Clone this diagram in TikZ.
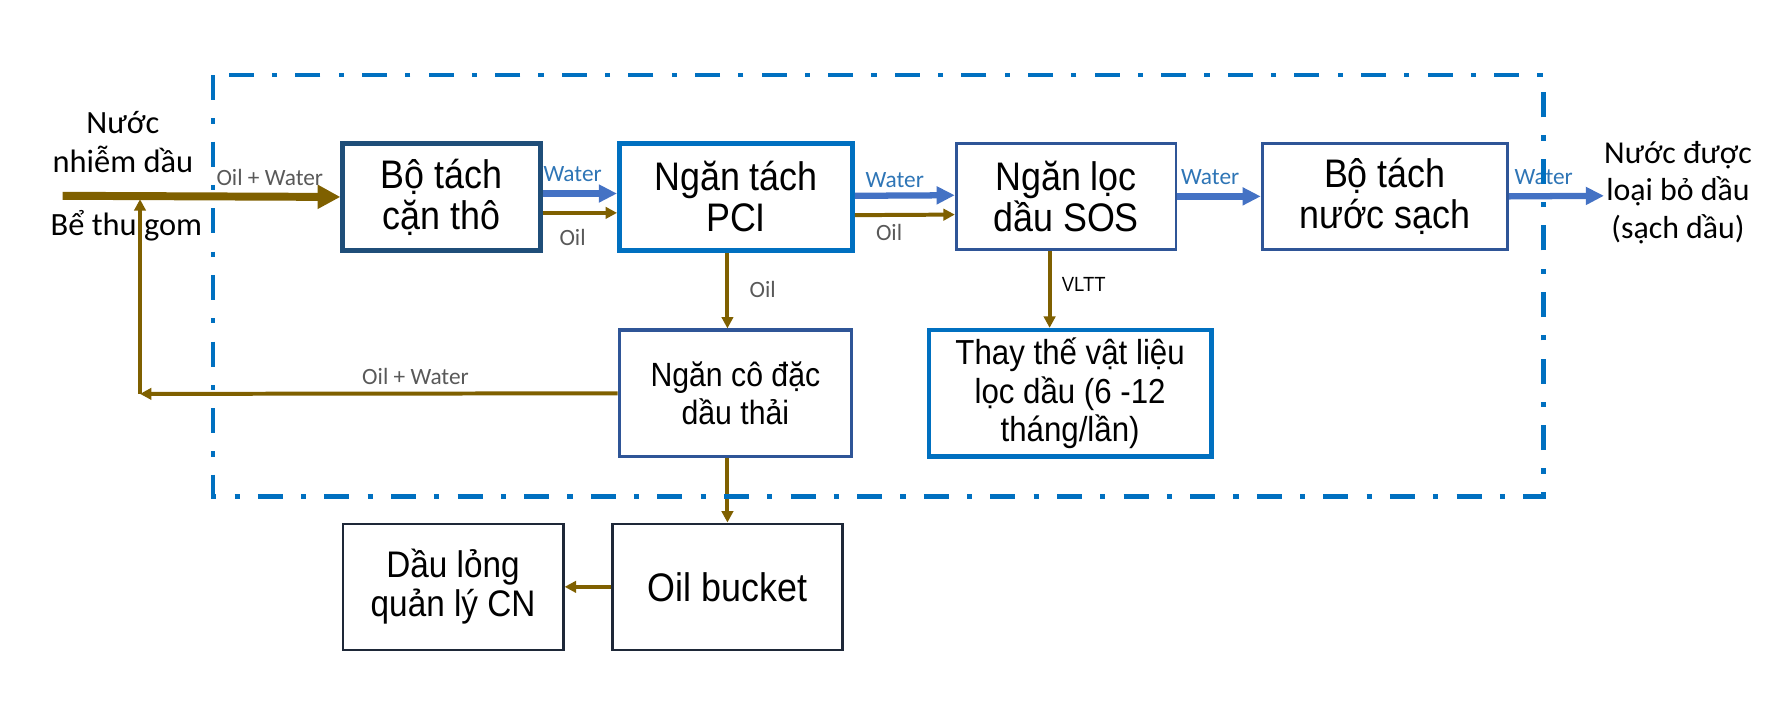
\documentclass[tikz,border=0pt]{standalone}
\usepackage{fontspec}
\setmainfont{Liberation Sans}
\newfontfamily\boxfont[FakeStretch=0.9]{Liberation Sans}
\newfontfamily\calfont{Carlito}
\usetikzlibrary{arrows.meta}
\definecolor{frameblue}{RGB}{0,112,192}
\definecolor{waterblue}{RGB}{68,114,196}
\definecolor{waterlbl}{RGB}{46,117,182}
\definecolor{oilbrown}{RGB}{127,96,0}
\definecolor{lblgray}{RGB}{89,89,89}
\definecolor{darkblue}{RGB}{31,78,121}
\definecolor{midblue}{RGB}{47,85,151}
\definecolor{darkline}{RGB}{30,40,56}
\begin{document}
\begin{tikzpicture}[x=1pt,y=-1pt,
  box/.style={rectangle, inner sep=0pt, align=center, fill=white, text=black,
    font=\boxfont\fontsize{35}{36}\selectfont},
  lbl/.style={inner sep=0pt, text=lblgray, font=\calfont\fontsize{20.5}{22}\selectfont},
  wlbl/.style={inner sep=0pt, text=waterlbl, font=\calfont\fontsize{20.5}{22}\selectfont},
  side/.style={inner sep=0pt, align=center, text=black, font=\calfont\fontsize{28.5}{34}\selectfont},
  water/.style={draw=waterblue, line width=5.5pt, -{Triangle[length=16pt,width=15pt]}},
  oil/.style={draw=oilbrown, line width=3.5pt, -{Triangle[length=10pt,width=10pt]}},
  mainin/.style={draw=oilbrown, line width=7pt, -{Triangle[length=20pt,width=20pt]}}
]
\useasboundingbox (0,0) rectangle (1568,635);

% boxes
\node[box, draw=darkblue, line width=4pt, minimum width=174pt, minimum height=94pt] (b1) at (388,173) {Bộ tách\\cặn thô};
\node[box, draw=frameblue, line width=4pt, minimum width=205pt, minimum height=94pt] (b2) at (646.5,173) {Ngăn tách\\PCI};
\node[box, draw=midblue, line width=2.5pt, minimum width=193pt, minimum height=93pt] (b3) at (936.5,172.5) {Ngăn lọc\\dầu SOS};
\node[box, draw=midblue, line width=3pt, minimum width=215pt, minimum height=93pt] (b4) at (1216.5,172.5) {Bộ tách\\nước sạch};
\node[box, draw=midblue, line width=3pt, minimum width=204pt, minimum height=111pt,
  font=\boxfont\fontsize{29.5}{34}\selectfont] (b5) at (646,345.5) {Ngăn cô đặc\\dầu thải};
\node[box, draw=frameblue, line width=4pt, minimum width=248pt, minimum height=111pt,
  font=\boxfont\fontsize{30.5}{34}\selectfont] (b6) at (940,345.5) {Thay thế vật liệu\\lọc dầu (6 -12\\tháng/lần)};
\node[box, draw=darkline, line width=2pt, minimum width=202pt, minimum height=111pt,
  font=\boxfont\fontsize{35}{36}\selectfont] (b7) at (639,515.5) {Oil bucket};
\node[box, draw=darkline, line width=2pt, minimum width=194pt, minimum height=111pt,
  font=\boxfont\fontsize{32.5}{34}\selectfont] (b8) at (398,515.5) {Dầu lỏng\\quản lý CN};

% side texts
\node[side] (t1) at (108,125) {Nước\\nhiễm dầu};
\node[side] (t2) at (111,198) {Bể thu gom};
\node[side, font=\calfont\fontsize{28}{33}\selectfont] (t3) at (1474,169) {Nước được\\loại bỏ dầu\\(sạch dầu)};

% coordinates
\coordinate (src) at (55,172);
\coordinate (corner) at (123,346);
\coordinate (out) at (1409,172);

% connectors
\draw[mainin] (src) -- (b1.west);
\draw[water] ([yshift=3pt]b1.east) -- ([yshift=3pt]b2.west);
\draw[oil] ([yshift=-14pt]b1.east) -- ([yshift=-14pt]b2.west);
\draw[water] ([yshift=1pt]b2.east) -- ([yshift=1pt]b3.west);
\draw[oil] ([yshift=-16pt]b2.east) -- ([yshift=-16pt]b3.west);
\draw[water] (b3.east) -- (b4.west);
\draw[water] (b4.east) -- (out);
\draw[oil] (b2.south -| b7.north) -- (b5.north -| b7.north);
\draw[oil] ([xshift=-14.5pt]b3.south) -- ([xshift=-18pt]b6.north);
\draw[oil] (b5.south -| b7.north) -- (b7.north);
\draw[oil] (b7.west) -- (b8.east);
\draw[oil] (b5.west) -- (corner);
\draw[oil] (corner) -- ([yshift=-3pt]corner |- src);

% labels
\node[lbl] (l1) at (237,156) {Oil + Water};
\node[wlbl] (l2) at (503,153) {Water};
\node[lbl] (l3) at (503,209) {Oil};
\node[wlbl] (l4) at (786,158) {Water};
\node[lbl] (l5) at (781,204) {Oil};
\node[wlbl] (l6) at (1063,156) {Water};
\node[wlbl] (l7) at (1356,156) {Water};
\node[lbl] (l8) at (670,254) {Oil};
\node[inner sep=0pt, text=black, font=\boxfont\fontsize{18}{20}\selectfont] (l9) at (952,250) {VLTT};
\node[lbl] (l10) at (365,331) {Oil + Water};

% dash-dot frame
\draw[frameblue, line width=4pt, dash pattern=on 22pt off 16pt on 4.5pt off 16pt] (187,66) rectangle (1356,436);
\end{tikzpicture}
\end{document}
